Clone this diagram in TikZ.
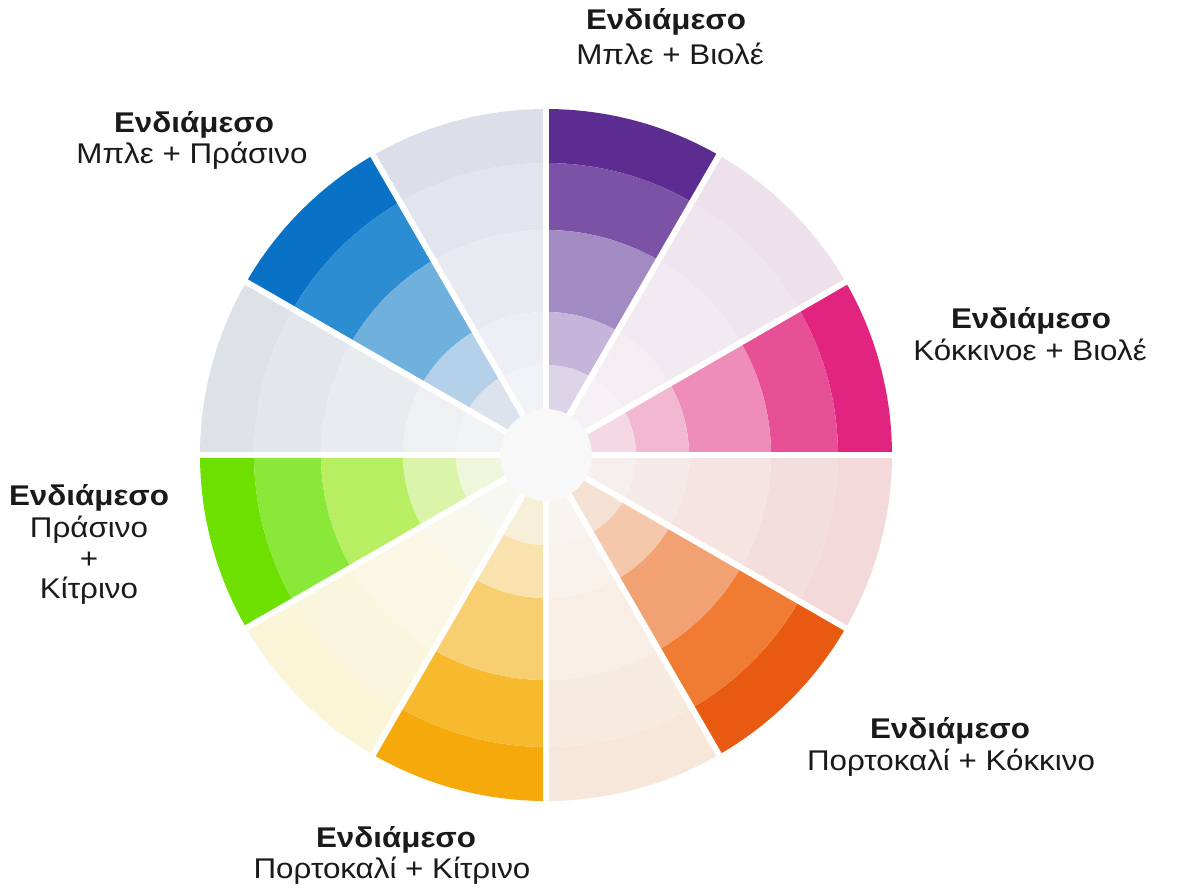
\documentclass[tikz,border=0pt]{standalone}
\usepackage{fontspec}
\setmainfont{Liberation Sans}[FakeStretch=1.1]
\definecolor{txt}{HTML}{1A1A1A}
\definecolor{ctr}{HTML}{F8F8F8}
% sector 0 purple
\definecolor{s0b1}{HTML}{5C2C90}\definecolor{s0b2}{HTML}{7B52A6}\definecolor{s0b3}{HTML}{A28AC3}\definecolor{s0b4}{HTML}{C5B5DA}\definecolor{s0b5}{HTML}{DCD5E8}
% sector 1 pale lavender pink
\definecolor{s1b1}{HTML}{EDE1EC}\definecolor{s1b2}{HTML}{EFE5EE}\definecolor{s1b3}{HTML}{F2EAF1}\definecolor{s1b4}{HTML}{F4EEF3}\definecolor{s1b5}{HTML}{F5F1F5}
% sector 2 magenta
\definecolor{s2b1}{HTML}{E0247F}\definecolor{s2b2}{HTML}{E74F97}\definecolor{s2b3}{HTML}{EE8DB9}\definecolor{s2b4}{HTML}{F2B8D2}\definecolor{s2b5}{HTML}{F4D8E4}
% sector 3 pale pink
\definecolor{s3b1}{HTML}{F3D9D9}\definecolor{s3b2}{HTML}{F4DEDD}\definecolor{s3b3}{HTML}{F5E4E2}\definecolor{s3b4}{HTML}{F6EAE8}\definecolor{s3b5}{HTML}{F6EFEE}
% sector 4 orange
\definecolor{s4b1}{HTML}{E85A12}\definecolor{s4b2}{HTML}{F07B32}\definecolor{s4b3}{HTML}{F2A172}\definecolor{s4b4}{HTML}{F5C8AC}\definecolor{s4b5}{HTML}{F5E0D4}
% sector 5 pale peach
\definecolor{s5b1}{HTML}{F7E6DA}\definecolor{s5b2}{HTML}{F7EADF}\definecolor{s5b3}{HTML}{F8EEE6}\definecolor{s5b4}{HTML}{F8F1EC}\definecolor{s5b5}{HTML}{F8F4F0}
% sector 6 yellow
\definecolor{s6b1}{HTML}{F5A90A}\definecolor{s6b2}{HTML}{F7B92E}\definecolor{s6b3}{HTML}{F8CF70}\definecolor{s6b4}{HTML}{F9E2AE}\definecolor{s6b5}{HTML}{F8EFD9}
% sector 7 pale yellow
\definecolor{s7b1}{HTML}{FAF5D6}\definecolor{s7b2}{HTML}{FAF6DD}\definecolor{s7b3}{HTML}{FAF7E5}\definecolor{s7b4}{HTML}{F9F8EC}\definecolor{s7b5}{HTML}{F8F8F2}
% sector 8 green
\definecolor{s8b1}{HTML}{6EE000}\definecolor{s8b2}{HTML}{8AE838}\definecolor{s8b3}{HTML}{B8EF62}\definecolor{s8b4}{HTML}{DAF4AA}\definecolor{s8b5}{HTML}{EEF7DC}
% sector 9 pale gray
\definecolor{s9b1}{HTML}{DDE2E8}\definecolor{s9b2}{HTML}{E3E7EC}\definecolor{s9b3}{HTML}{E9ECEF}\definecolor{s9b4}{HTML}{EEF0F2}\definecolor{s9b5}{HTML}{F2F3F4}
% sector 10 blue
\definecolor{s10b1}{HTML}{0A72C6}\definecolor{s10b2}{HTML}{2D8DD3}\definecolor{s10b3}{HTML}{70B0DD}\definecolor{s10b4}{HTML}{B5D1EA}\definecolor{s10b5}{HTML}{DCE3EC}
% sector 11 pale gray lavender
\definecolor{s11b1}{HTML}{DCDFEA}\definecolor{s11b2}{HTML}{E2E4EE}\definecolor{s11b3}{HTML}{E8EAF1}\definecolor{s11b4}{HTML}{EEEFF4}\definecolor{s11b5}{HTML}{F2F3F6}
\tikzset{
  boldlbl/.style={anchor=base, inner sep=0pt, text=txt, font=\fontsize{28.5}{34}\selectfont\bfseries},
  reglbl/.style={anchor=base, inner sep=0pt, text=txt, font=\fontsize{28.5}{34}\selectfont},
  gap/.style={white, line width=6pt}
}
\begin{document}
\begin{tikzpicture}[x=1pt,y=1pt]
\useasboundingbox[fill=white] (0,0) rectangle (1181,-891);
\begin{scope}[shift={(546,-455)}]
  \foreach \k in {0,...,11} {
    \pgfmathsetmacro\a{90-30*\k}
    \pgfmathsetmacro\b{60-30*\k}
    \foreach \j/\ro/\ri in {1/346/292,2/292/225,3/225/143,4/143/90,5/90/45} {
      \fill[s\k b\j] (\a:\ri pt) arc[start angle=\a, end angle=\b, radius=\ri pt]
        -- (\b:\ro pt) arc[start angle=\b, end angle=\a, radius=\ro pt] -- cycle;
    }
  }
  \foreach \k in {0,...,11} {
    \draw[gap] (0,0) -- ({90-30*\k}:352pt);
  }
  \fill[ctr] (0,0) circle[radius=46pt];
\end{scope}
% labels
\node[boldlbl] (t1a) at (666,-30) {Ενδιάμεσο};
\node[reglbl] (t1b) at (670,-65) {Μπλε + Βιολέ};
\node[boldlbl] (t2a) at (194,-132) {Ενδιάμεσο};
\node[reglbl] (t2b) at (192,-163) {Μπλε + Πράσινο};
\node[boldlbl] (t3a) at (1031,-328) {Ενδιάμεσο};
\node[reglbl] (t3b) at (1030,-360) {Κόκκινοε + Βιολέ};
\node[boldlbl] (t4a) at (89,-505) {Ενδιάμεσο};
\node[reglbl] (t4b) at (89,-537) {Πράσινο};
\node[reglbl] (t4c) at (89,-568) {+};
\node[reglbl] (t4d) at (89,-598) {Κίτρινο};
\node[boldlbl] (t5a) at (950,-738) {Ενδιάμεσο};
\node[reglbl] (t5b) at (951,-770) {Πορτοκαλί + Κόκκινο};
\node[boldlbl] (t6a) at (396,-847) {Ενδιάμεσο};
\node[reglbl] (t6b) at (392,-878) {Πορτοκαλί + Κίτρινο};
\end{tikzpicture}
\end{document}
